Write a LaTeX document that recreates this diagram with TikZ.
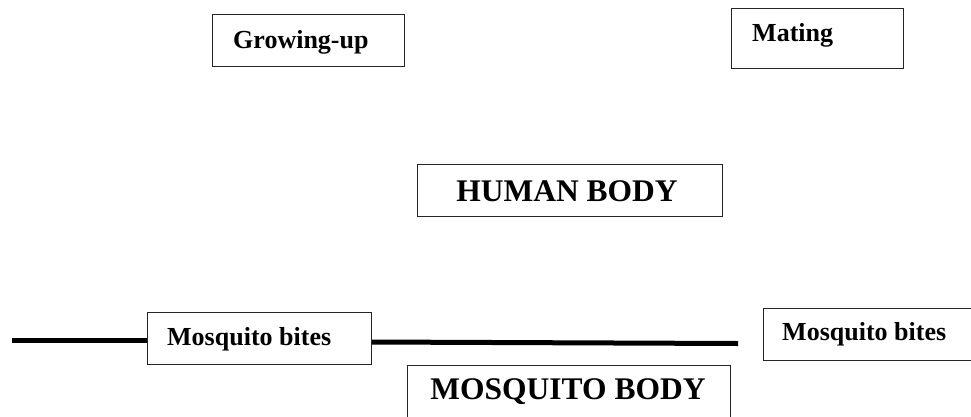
\documentclass[tikz,border=0pt]{standalone}
\usepackage{fontspec}
\setmainfont{Liberation Serif}
\begin{document}
\begin{tikzpicture}[x=1pt,y=-1pt,
  frame/.style={draw=black!85, line width=0.9pt, fill=white, inner sep=0pt, anchor=north west},
  small/.style={font=\fontsize{26}{30}\selectfont\bfseries, inner sep=0pt, anchor=base west},
  big/.style={font=\fontsize{31.5}{36}\selectfont\bfseries, inner sep=0pt},
  bar/.style={line width=5pt}]
\useasboundingbox (0,0) rectangle (971,416);
% left end and right end of the thick line
\coordinate (lstart) at (12,340.5);
\coordinate (lend) at (738,343.5);
% boxes
\node[frame, minimum width=192pt, minimum height=52pt] (grow) at (212,14) {};
\node[small] (growt) at (233,48) {Growing-up};
\node[frame, minimum width=172pt, minimum height=60pt] (mate) at (731,8) {};
\node[small] (matet) at (752,41) {Mating};
\node[frame, minimum width=305pt, minimum height=52pt] (human) at (417,164) {};
\node[big] (humant) at (567,191) {HUMAN BODY};
\node[frame, minimum width=224pt, minimum height=52pt] (bites1) at (147,312) {};
\node[small] (bites1t) at (167,345) {Mosquito bites};
\node[frame, minimum width=220pt, minimum height=52pt] (bites2) at (763,308) {};
\node[small] (bites2t) at (782,340) {Mosquito bites};
\node[frame, minimum width=323pt, minimum height=60pt] (mosq) at (407,365) {};
\node[big] (mosqt) at (568,392) {MOSQUITO BODY};
% thick line through the first "Mosquito bites" box
\draw[bar] (lstart) -- (bites1.west |- lstart);
\draw[bar] (bites1.east |- 0,342) -- (lend);
\end{tikzpicture}
\end{document}
